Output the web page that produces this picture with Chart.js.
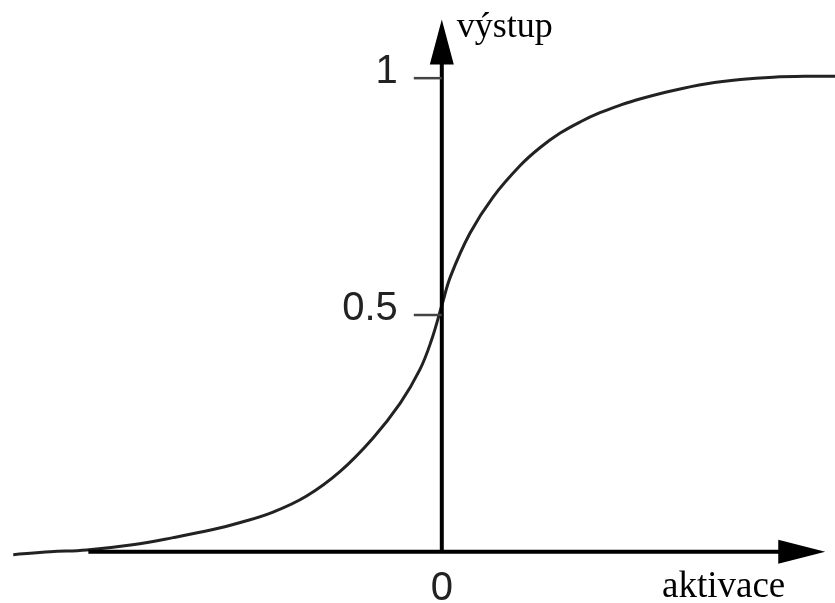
<!DOCTYPE html>
<html>
<head>
<meta charset="utf-8">
<script src="https://cdn.jsdelivr.net/npm/chart.js@4"></script>
<style>
  html, body { margin: 0; padding: 0; background: #fff; }
  #wrap { width: 835px; height: 603px; }
</style>
</head>
<body>
<div id="wrap"><canvas id="sigmoidChart"></canvas></div>
<script>
// hodnoty (aktivace -> vystup)
const activation = [-4.85, -4.43, -4.02, -3.5, -3.04, -2.59, -2.28, -1.91, -1.53, -1.15, -0.78, -0.47, -0.25, -0.12, 0, 0.1, 0.32, 0.58, 0.89, 1.11, 1.34, 1.57, 1.79, 2.02, 2.24, 2.62, 3.0, 3.38, 3.75, 4.13, 4.45];
const output = [-0.006, 0, 0.004, 0.015, 0.030, 0.047, 0.062, 0.084, 0.118, 0.170, 0.240, 0.314, 0.384, 0.445, 0.52, 0.582, 0.673, 0.749, 0.816, 0.853, 0.884, 0.908, 0.927, 0.943, 0.956, 0.974, 0.988, 0.997, 1.002, 1.004, 1.004];

const yTickValues = [0.5, 1];
const yTickLabels = ['0.5', '1'];
const xTickValues = [0];
const xTickLabels = ['0'];
const xTitle = 'aktivace';
const yTitle = 'výstup';

const points = activation.map((a, i) => ({ x: a, y: output[i] }));

// osy se sipkami, carky a popisky
const axesPlugin = {
    id: 'axesPlugin',
    afterDatasetsDraw(chart) {
        const ctx = chart.ctx;
        const xs = chart.scales.x;
        const ys = chart.scales.y;
        const x0 = xs.getPixelForValue(0);
        const y0 = ys.getPixelForValue(0);
        const xStart = xs.getPixelForValue(-4.0);
        const xTip = xs.getPixelForValue(4.34);
        const yTip = ys.getPixelForValue(1.124);

        ctx.save();
        ctx.strokeStyle = '#000';
        ctx.fillStyle = '#000';
        ctx.lineWidth = 4;

        // osa x
        ctx.beginPath();
        ctx.moveTo(xStart, y0);
        ctx.lineTo(xTip - 40, y0);
        ctx.stroke();
        ctx.beginPath();
        ctx.moveTo(xTip, y0);
        ctx.lineTo(xTip - 47, y0 - 12);
        ctx.lineTo(xTip - 47, y0 + 12);
        ctx.closePath();
        ctx.fill();

        // osa y
        ctx.beginPath();
        ctx.moveTo(x0, y0 + 1);
        ctx.lineTo(x0, yTip + 40);
        ctx.stroke();
        ctx.beginPath();
        ctx.moveTo(x0, yTip);
        ctx.lineTo(x0 - 12, yTip + 45);
        ctx.lineTo(x0 + 12, yTip + 45);
        ctx.closePath();
        ctx.fill();

        // carky a popisky na ose y
        ctx.strokeStyle = '#444';
        ctx.lineWidth = 2.5;
        ctx.fillStyle = '#222';
        ctx.font = '40px "Liberation Sans", Arial, sans-serif';
        ctx.textAlign = 'right';
        ctx.textBaseline = 'alphabetic';
        yTickValues.forEach((v, i) => {
            const py = ys.getPixelForValue(v);
            ctx.beginPath();
            ctx.moveTo(x0 - 28, py);
            ctx.lineTo(x0, py);
            ctx.stroke();
            ctx.fillText(yTickLabels[i], x0 - 44, py + 5);
        });

        // popisky na ose x
        ctx.textAlign = 'center';
        xTickValues.forEach((v, i) => {
            ctx.fillText(xTickLabels[i], xs.getPixelForValue(v), y0 + 48);
        });

        // nazvy os
        ctx.fillStyle = '#000';
        ctx.font = '37px "Liberation Serif", "Times New Roman", serif';
        ctx.textAlign = 'left';
        ctx.fillText(xTitle, 662, y0 + 45);
        ctx.font = '36px "Liberation Serif", "Times New Roman", serif';
        ctx.fillText(yTitle, x0 + 15, 37);
        ctx.restore();
    }
};

new Chart(document.getElementById('sigmoidChart'), {
    type: 'line',
    data: {
        datasets: [{
            label: yTitle,
            data: points,
            borderColor: '#222',
            borderWidth: 3,
            pointRadius: 0,
            fill: false,
            tension: 0.4
        }]
    },
    options: {
        responsive: true,
        maintainAspectRatio: false,
        animation: false,
        layout: { padding: 0 },
        plugins: {
            legend: { display: false },
            tooltip: { enabled: false }
        },
        scales: {
            x: { type: 'linear', min: -5, max: 4.45, display: false },
            y: { type: 'linear', min: -0.108, max: 1.165, display: false }
        }
    },
    plugins: [axesPlugin]
});
</script>
</body>
</html>
